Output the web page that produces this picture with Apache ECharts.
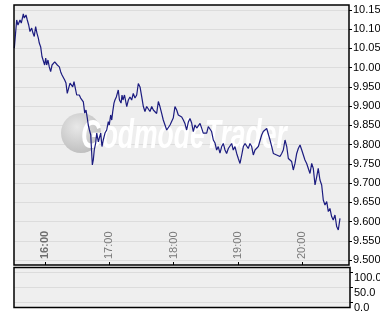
<!DOCTYPE html>
<html><head><meta charset="utf-8">
<script src="https://cdn.jsdelivr.net/npm/echarts@6/dist/echarts.min.js"></script>
<style>html,body{margin:0;padding:0;background:#fff}#c{width:380px;height:325px}</style>
</head><body><div id="c"></div>
<script>
// minutes after 15:00
const minutes = [
31.4,33.6,34.8,36.7,37.9,39.8,40.7,42.3,43.5,44.8,
46.0,47.6,48.8,50.0,51.3,52.5,53.8,54.7,56.0,57.2,
58.4,59.7,60.7,61.6,62.8,64.0,65.3,66.6,67.8,69.1,
70.3,71.5,73.4,74.7,75.9,77.1,78.4,79.6,80.8,82.1,
83.4,84.6,85.9,87.1,88.3,89.6,90.8,92.0,93.3,94.5,
95.8,97.1,98.3,99.5,100.4,101.5,102.7,104.2,105.1,106.0,
107.3,108.3,109.8,110.7,112.0,113.2,114.4,116.0,117.6,119.1,
120.0,121.3,122.3,123.2,124.4,125.3,126.6,128.4,129.5,131.0,
131.9,132.8,134.2,136.3,137.8,139.3,140.9,142.4,144.0,145.6,
147.1,148.7,150.3,151.8,153.3,154.9,156.4,158.0,159.6,161.1,
162.7,164.2,165.8,167.3,168.9,170.4,172.0,173.6,175.1,176.7,
178.2,179.7,181.3,182.9,184.4,186.0,187.6,189.1,190.7,192.2,
193.8,195.3,196.9,198.4,200.0,201.6,203.1,204.7,206.2,207.7,
209.3,210.9,212.4,214.0,215.5,217.1,218.7,220.2,221.7,223.3,
224.9,226.4,228.0,229.5,231.1,232.6,234.2,235.7,237.3,238.9,
240.4,242.0,243.6,245.1,246.7,248.2,249.7,251.3,252.9,254.4,
256.0,257.6,259.1,260.6,262.2,263.7,265.3,266.9,268.4,270.0,
271.6,273.1,274.7,276.2,277.7,279.3,280.9,282.4,284.0,285.6,
287.1,288.6,290.2,291.7,293.3,294.9,296.4,298.0,299.6,301.1,
302.6,304.2,305.8,307.3,308.9,310.4,312.0,313.6,315.0,316.6,
318.2,319.7,321.3,322.9,324.4,325.9,327.5,329.0,330.6,332.2,
333.7,335.3
];
const prices = [
10.051,10.124,10.111,10.124,10.116,10.140,10.129,10.137,10.124,10.111,
10.094,10.103,10.090,10.081,10.107,10.090,10.077,10.064,10.054,10.029,
10.025,10.007,10.025,10.007,10.020,10.002,9.990,10.007,10.002,10.015,
10.012,10.007,10.002,9.989,9.981,9.976,9.968,9.960,9.933,9.947,
9.960,9.963,9.950,9.964,9.947,9.929,9.924,9.929,9.921,9.916,
9.911,9.882,9.890,9.869,9.851,9.838,9.825,9.747,9.760,9.786,
9.804,9.830,9.807,9.817,9.830,9.795,9.812,9.830,9.838,9.860,
9.851,9.877,9.864,9.885,9.908,9.916,9.924,9.942,9.916,9.908,
9.929,9.916,9.929,9.899,9.916,9.924,9.916,9.933,9.921,9.929,
9.959,9.950,9.924,9.899,9.886,9.899,9.903,9.886,9.899,9.890,
9.894,9.881,9.912,9.899,9.881,9.864,9.851,9.838,9.843,9.851,
9.855,9.869,9.899,9.890,9.877,9.881,9.872,9.864,9.854,9.838,
9.859,9.868,9.856,9.834,9.851,9.843,9.838,9.855,9.843,9.830,
9.834,9.830,9.847,9.843,9.834,9.812,9.804,9.786,9.795,9.778,
9.795,9.803,9.786,9.777,9.790,9.786,9.803,9.786,9.795,9.777,
9.764,9.751,9.773,9.795,9.803,9.799,9.790,9.803,9.795,9.773,
9.786,9.790,9.795,9.799,9.825,9.834,9.838,9.842,9.838,9.812,
9.795,9.777,9.782,9.773,9.777,9.769,9.777,9.786,9.812,9.795,
9.764,9.760,9.756,9.734,9.751,9.777,9.790,9.799,9.786,9.773,
9.760,9.751,9.747,9.725,9.751,9.738,9.695,9.717,9.738,9.708,
9.695,9.656,9.643,9.652,9.626,9.634,9.613,9.604,9.617,9.587,
9.578,9.608
];
const hourTicks = [60, 120, 180, 240, 300];
const hourLabels = ['16:00', '17:00', '18:00', '19:00', '20:00'];

const lineData = minutes.map((m, i) => [m, prices[i]]);
const chart = echarts.init(document.getElementById('c'), null, {renderer: 'canvas'});
const font = 'Liberation Sans, Arial, sans-serif';
chart.setOption({
  animation: false,
  backgroundColor: '#ffffff',
  grid: [
    {left: 14, right: 31, top: 10, height: 250, outerBoundsMode: 'none', containLabel: false},
    {left: 14, right: 30, top: 272, height: 30, outerBoundsMode: 'none', containLabel: false}
  ],
  xAxis: [
    {type: 'value', gridIndex: 0, min: 31.1, max: 343.7, offset: 5,
     axisLine: {show: false},
     splitLine: {show: false},
     axisTick: {show: true, inside: true, length: 3, customValues: hourTicks, lineStyle: {color: '#000', width: 1}},
     axisLabel: {show: true, inside: true, rotate: 90, margin: 6, customValues: hourTicks,
       fontFamily: font, fontSize: 11, color: '#7a7a7a',
       formatter: v => {
         const i = hourTicks.indexOf(Math.round(v));
         return i === 0 ? '{b|' + hourLabels[i] + '}' : hourLabels[i];
       },
       rich: {b: {fontWeight: 'bold', fontFamily: font, fontSize: 11, color: '#6e6e6e'}}
     }},
    {type: 'value', gridIndex: 1, min: 31.1, max: 343.7, show: false}
  ],
  yAxis: [
    {type: 'value', gridIndex: 0, position: 'right', min: 9.5, max: 10.15, interval: 0.05,
     axisLine: {show: false},
     axisTick: {show: true, length: 3, lineStyle: {color: '#000'}},
     splitLine: {show: true, lineStyle: {color: '#dcdcdc', width: 1}},
     axisLabel: {margin: 4, fontFamily: font, fontSize: 11, color: '#000',
       formatter: v => v >= 9.9999 ? v.toFixed(2) : v.toFixed(3)}},
    {type: 'value', gridIndex: 1, position: 'right', min: 0, max: 100, interval: 50,
     axisLine: {show: false},
     axisTick: {show: true, length: 3, lineStyle: {color: '#000'}},
     splitLine: {show: true, lineStyle: {color: '#dcdcdc', width: 1}},
     axisLabel: {margin: 4, fontFamily: font, fontSize: 11, color: '#000', verticalAlign: 'top',
       formatter: v => v.toFixed(1)}}
  ],
  graphic: [
    {type: 'rect', z: -10, silent: true, shape: {x: 14, y: 5, width: 335, height: 260},
     style: {fill: '#eeeeee', stroke: null}},
    {type: 'rect', z: -10, silent: true, shape: {x: 14, y: 267.5, width: 336, height: 40},
     style: {fill: '#efefef', stroke: null}},
    {type: 'circle', z: 1, silent: true, shape: {cx: 81, cy: 133, r: 20},
     style: {fill: new echarts.graphic.RadialGradient(0.4, 0.35, 0.7, [
       {offset: 0, color: '#e8e8e8'}, {offset: 1, color: '#bdbdbd'}])}},
    {type: 'text', z: 1, silent: true, x: 81, y: 116, scaleX: 0.68, scaleY: 1.05,
     style: {text: 'GodmodeTrader', fill: '#ffffff',
       font: 'italic bold 39px "Liberation Sans Narrow", "Liberation Sans", Arial, sans-serif',
       shadowColor: 'rgba(0,0,0,0.35)', shadowBlur: 3, shadowOffsetX: 2, shadowOffsetY: 3}},
    {type: 'rect', z: 100, silent: true, shape: {x: 14, y: 5, width: 335, height: 260},
     style: {fill: null, stroke: '#000', lineWidth: 1.5}},
    {type: 'rect', z: 100, silent: true, shape: {x: 14, y: 267.5, width: 336, height: 40},
     style: {fill: null, stroke: '#000', lineWidth: 1.5}}
  ],
  series: [
    {type: 'line', xAxisIndex: 0, yAxisIndex: 0, data: lineData, showSymbol: false,
     z: 5, lineStyle: {color: '#1c1c80', width: 1.2}}
  ]
});
</script></body></html>
